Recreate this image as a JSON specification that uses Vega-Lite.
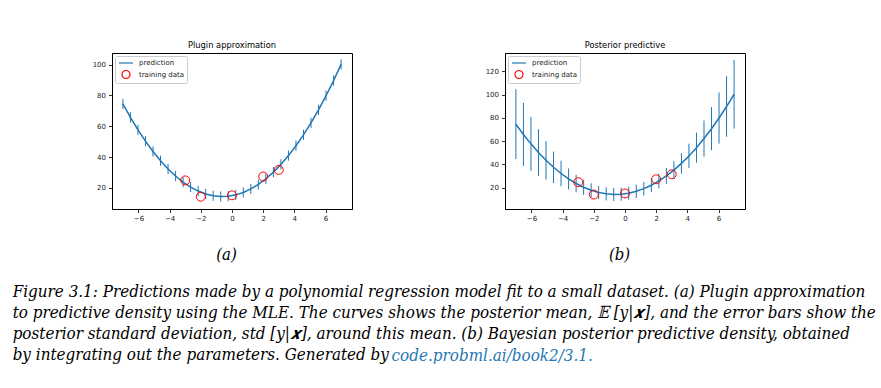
{
  "$schema": "https://vega.github.io/schema/vega-lite/v6.json",
  "padding": {"left": 12, "top": 40, "right": 5, "bottom": 0},
  "datasets": {
    "pred": [
      {"x": -7.000, "mean": 74.54, "aLo": 71.24, "aHi": 77.84, "bLo": 44.54, "bHi": 104.54},
      {"x": -6.517, "mean": 65.76, "aLo": 62.46, "aHi": 69.06, "bLo": 38.76, "bHi": 92.76},
      {"x": -6.034, "mean": 57.68, "aLo": 54.38, "aHi": 60.98, "bLo": 34.68, "bHi": 80.68},
      {"x": -5.552, "mean": 50.30, "aLo": 47.00, "aHi": 53.60, "bLo": 30.30, "bHi": 70.30},
      {"x": -5.069, "mean": 43.59, "aLo": 40.29, "aHi": 46.89, "bLo": 27.09, "bHi": 60.09},
      {"x": -4.586, "mean": 37.58, "aLo": 34.28, "aHi": 40.88, "bLo": 24.08, "bHi": 51.08},
      {"x": -4.103, "mean": 32.25, "aLo": 28.95, "aHi": 35.55, "bLo": 21.25, "bHi": 43.25},
      {"x": -3.621, "mean": 27.63, "aLo": 24.33, "aHi": 30.93, "bLo": 18.63, "bHi": 36.63},
      {"x": -3.138, "mean": 23.68, "aLo": 20.38, "aHi": 26.98, "bLo": 16.18, "bHi": 31.18},
      {"x": -2.655, "mean": 20.43, "aLo": 17.13, "aHi": 23.73, "bLo": 13.93, "bHi": 26.93},
      {"x": -2.172, "mean": 17.87, "aLo": 14.57, "aHi": 21.17, "bLo": 11.87, "bHi": 23.87},
      {"x": -1.690, "mean": 15.99, "aLo": 12.69, "aHi": 19.29, "bLo": 10.29, "bHi": 21.69},
      {"x": -1.207, "mean": 14.81, "aLo": 11.51, "aHi": 18.11, "bLo": 9.21, "bHi": 20.41},
      {"x": -0.724, "mean": 14.32, "aLo": 11.02, "aHi": 17.62, "bLo": 8.72, "bHi": 19.92},
      {"x": -0.241, "mean": 14.51, "aLo": 11.21, "aHi": 17.81, "bLo": 8.91, "bHi": 20.11},
      {"x": 0.241, "mean": 15.40, "aLo": 12.10, "aHi": 18.70, "bLo": 9.80, "bHi": 21.00},
      {"x": 0.724, "mean": 16.97, "aLo": 13.67, "aHi": 20.27, "bLo": 11.27, "bHi": 22.67},
      {"x": 1.207, "mean": 19.24, "aLo": 15.94, "aHi": 22.54, "bLo": 13.44, "bHi": 25.04},
      {"x": 1.690, "mean": 22.20, "aLo": 18.90, "aHi": 25.50, "bLo": 16.20, "bHi": 28.20},
      {"x": 2.172, "mean": 25.84, "aLo": 22.54, "aHi": 29.14, "bLo": 19.54, "bHi": 32.14},
      {"x": 2.655, "mean": 30.18, "aLo": 26.88, "aHi": 33.48, "bLo": 23.38, "bHi": 36.98},
      {"x": 3.138, "mean": 35.20, "aLo": 31.90, "aHi": 38.50, "bLo": 27.60, "bHi": 42.80},
      {"x": 3.621, "mean": 40.92, "aLo": 37.62, "aHi": 44.22, "bLo": 32.12, "bHi": 49.72},
      {"x": 4.103, "mean": 47.32, "aLo": 44.02, "aHi": 50.62, "bLo": 36.82, "bHi": 57.82},
      {"x": 4.586, "mean": 54.41, "aLo": 51.11, "aHi": 57.71, "bLo": 41.61, "bHi": 67.21},
      {"x": 5.069, "mean": 62.20, "aLo": 58.90, "aHi": 65.50, "bLo": 46.70, "bHi": 77.70},
      {"x": 5.552, "mean": 70.68, "aLo": 67.38, "aHi": 73.98, "bLo": 52.18, "bHi": 89.18},
      {"x": 6.034, "mean": 79.83, "aLo": 76.53, "aHi": 83.13, "bLo": 57.83, "bHi": 101.83},
      {"x": 6.517, "mean": 89.69, "aLo": 86.39, "aHi": 92.99, "bLo": 63.69, "bHi": 115.69},
      {"x": 7.000, "mean": 100.23, "aLo": 96.93, "aHi": 103.53, "bLo": 70.73, "bHi": 129.73}
    ],
    "train": [
      {"x": -3, "y": 24.8},
      {"x": -2, "y": 14.2},
      {"x": 0, "y": 15.1},
      {"x": 2, "y": 27.3},
      {"x": 3, "y": 31.6}
    ]
  },
  "title": {
    "text": [
      "Figure 3.1: Predictions made by a polynomial regression model fit to a small dataset. (a) Plugin approximation",
      "to predictive density using the MLE. The curves shows the posterior mean, 𝔼 [y|𝒙], and the error bars show the",
      "posterior standard deviation, std [y|𝒙], around this mean. (b) Bayesian posterior predictive density, obtained",
      "by integrating out the parameters. Generated by"
    ],
    "subtitle": "\u2800\u2003\u2003\u2003\u2003\u2003\u2003\u2003\u2003\u2003\u2003\u2003\u2003\u2003\u2003\u2003\u2003\u2003\u2003\u2003\u2003\u2003\u2003\u2003\u2003\u2009code.probml.ai/book2/3.1.",
    "orient": "bottom",
    "anchor": "start",
    "frame": "bounds",
    "dx": -79,
    "offset": 20,
    "font": "DejaVu Serif Condensed",
    "fontStyle": "italic",
    "fontWeight": "normal",
    "fontSize": 16.9,
    "lineHeight": 21,
    "color": "black",
    "subtitleFont": "DejaVu Serif Condensed",
    "subtitleFontStyle": "italic",
    "subtitleFontWeight": "normal",
    "subtitleFontSize": 16.9,
    "subtitleLineHeight": 21,
    "subtitleColor": "#1f78b4",
    "subtitlePadding": -16
  },
  "spacing": 131,
  "resolve": {
    "scale": {"color": "independent", "x": "independent", "y": "independent"},
    "legend": {"color": "independent"}
  },
  "hconcat": [
    {
      "width": 240,
      "height": 156,
      "title": {"text": "Plugin approximation", "font": "DejaVu Sans", "fontSize": 8.3, "fontWeight": "normal", "color": "black", "offset": 4},
      "layer": [
        {
          "data": {"name": "pred"},
          "mark": {"type": "rule", "color": "#1f77b4", "strokeWidth": 1},
          "encoding": {
            "x": {"field": "x", "type": "quantitative", "scale": {"domain": [-7.7, 7.7], "nice": false, "zero": false},
              "axis": {"values": [-6, -4, -2, 0, 2, 4, 6], "tickCount": 20, "labelOverlap": false, "title": "(a)", "titleX": 114, "labelExpr": "replace(datum.label, '-', '−')"}},
            "y": {"field": "aLo", "type": "quantitative", "scale": {"domain": [6.2, 107.6], "nice": false, "zero": false},
              "axis": {"values": [20, 40, 60, 80, 100], "tickCount": 20, "labelOverlap": false, "title": null}},
            "y2": {"field": "aHi"}
          }
        },
        {
          "data": {"name": "pred"},
          "mark": {"type": "line", "strokeWidth": 1.5},
          "encoding": {
            "x": {"field": "x", "type": "quantitative"},
            "y": {"field": "mean", "type": "quantitative"},
            "color": {"datum": "prediction", "type": "nominal", "scale": {"domain": ["prediction", "training data"], "range": ["#1f77b4", "red"]},
              "legend": {
                "encode": {
                  "symbols": {
                    "update": {
                      "shape": {"signal": "datum.value === 'prediction' ? 'stroke' : 'circle'"},
                      "size": {"signal": "datum.value === 'prediction' ? 196 : 64"},
                      "stroke": {"signal": "datum.value === 'prediction' ? '#555555' : '#ff0000'"},
                      "strokeWidth": {"value": 1.2},
                      "fill": {"value": "transparent"}
                    }
                  }
                }
              }}
          }
        },
        {
          "data": {"name": "train"},
          "mark": {"type": "point", "filled": false, "size": 80, "strokeWidth": 1, "opacity": 1},
          "encoding": {
            "x": {"field": "x", "type": "quantitative"},
            "y": {"field": "y", "type": "quantitative"},
            "color": {"datum": "training data", "type": "nominal"}
          }
        }
      ]
    },
    {
      "width": 240,
      "height": 156,
      "title": {"text": "Posterior predictive", "font": "DejaVu Sans", "fontSize": 8.3, "fontWeight": "normal", "color": "black", "offset": 4},
      "layer": [
        {
          "data": {"name": "pred"},
          "mark": {"type": "rule", "color": "#1f77b4", "strokeWidth": 1},
          "encoding": {
            "x": {"field": "x", "type": "quantitative", "scale": {"domain": [-7.7, 7.7], "nice": false, "zero": false},
              "axis": {"values": [-6, -4, -2, 0, 2, 4, 6], "tickCount": 20, "labelOverlap": false, "title": "(b)", "titleX": 114, "labelExpr": "replace(datum.label, '-', '−')"}},
            "y": {"field": "bLo", "type": "quantitative", "scale": {"domain": [1.8, 135.6], "nice": false, "zero": false},
              "axis": {"values": [20, 40, 60, 80, 100, 120], "tickCount": 20, "labelOverlap": false, "title": null}},
            "y2": {"field": "bHi"}
          }
        },
        {
          "data": {"name": "pred"},
          "mark": {"type": "line", "strokeWidth": 1.5},
          "encoding": {
            "x": {"field": "x", "type": "quantitative"},
            "y": {"field": "mean", "type": "quantitative"},
            "color": {"datum": "prediction", "type": "nominal", "scale": {"domain": ["prediction", "training data"], "range": ["#1f77b4", "red"]},
              "legend": {
                "encode": {
                  "symbols": {
                    "update": {
                      "shape": {"signal": "datum.value === 'prediction' ? 'stroke' : 'circle'"},
                      "size": {"signal": "datum.value === 'prediction' ? 196 : 64"},
                      "stroke": {"signal": "datum.value === 'prediction' ? '#555555' : '#ff0000'"},
                      "strokeWidth": {"value": 1.2},
                      "fill": {"value": "transparent"}
                    }
                  }
                }
              }}
          }
        },
        {
          "data": {"name": "train"},
          "mark": {"type": "point", "filled": false, "size": 80, "strokeWidth": 1, "opacity": 1},
          "encoding": {
            "x": {"field": "x", "type": "quantitative"},
            "y": {"field": "y", "type": "quantitative"},
            "color": {"datum": "training data", "type": "nominal"}
          }
        }
      ]
    }
  ],
  "config": {
    "view": {"stroke": "black", "strokeWidth": 1},
    "axis": {
      "domainColor": "black", "domainWidth": 1, "tickColor": "black", "tickSize": 3.5, "tickWidth": 0.8,
      "labelFont": "DejaVu Sans", "labelFontSize": 7, "labelColor": "#222", "grid": false, "labelOverlap": false,
      "titleFont": "DejaVu Serif Condensed", "titleFontStyle": "italic", "titleFontWeight": "normal", "titleFontSize": 16.6, "titleColor": "black"
    },
    "axisX": {"labelPadding": 2, "titlePadding": 25},
    "axisY": {"labelPadding": 3},
    "legend": {
      "orient": "top-left", "offset": 3, "padding": 2, "fillColor": "rgba(255,255,255,0.8)", "strokeColor": "#ccc", "cornerRadius": 2,
      "title": null, "labelFont": "DejaVu Sans", "labelFontSize": 7, "labelColor": "#222",
      "symbolSize": 64, "symbolOffset": 4, "labelOffset": 8, "rowPadding": 1.5
    }
  }
}
